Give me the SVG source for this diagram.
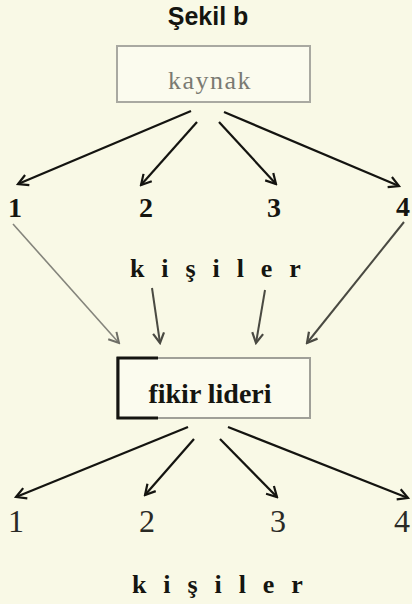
<svg xmlns="http://www.w3.org/2000/svg" width="412" height="604" viewBox="0 0 412 604">
<style>
.serif{font-family:"Liberation Serif","Times New Roman",serif;}
.num-b{font-family:"Liberation Serif",serif;font-weight:bold;font-size:28px;fill:#151510;text-anchor:middle;}
.num-r{font-family:"Liberation Serif",serif;font-size:32px;fill:#2a2a25;text-anchor:middle;}
.kis{font-family:"Liberation Serif",serif;font-weight:bold;font-size:26px;fill:#151510;letter-spacing:5.2px;}
.blk{stroke:#141410;stroke-width:2.2;fill:none;marker-end:url(#ah);}
.dg{stroke:#4a4a42;stroke-width:2;fill:none;marker-end:url(#ahg);}
.lg{stroke:#85857c;stroke-width:1.6;fill:none;marker-end:url(#ahl);}
</style>
<defs>
<marker id="ah" viewBox="0 0 14 14" refX="12" refY="7" markerWidth="14" markerHeight="14" orient="auto" markerUnits="userSpaceOnUse">
<path d="M2,1.5 L12,7 L2,12.5" fill="none" stroke="#141410" stroke-width="2.2"/>
</marker>
<marker id="ahg" viewBox="0 0 14 14" refX="12" refY="7" markerWidth="14" markerHeight="14" orient="auto" markerUnits="userSpaceOnUse">
<path d="M2,1.5 L12,7 L2,12.5" fill="none" stroke="#4a4a42" stroke-width="2.2"/>
</marker>
<marker id="ahl" viewBox="0 0 14 14" refX="12" refY="7" markerWidth="14" markerHeight="14" orient="auto" markerUnits="userSpaceOnUse">
<path d="M2,1.5 L12,7 L2,12.5" fill="none" stroke="#6e6e66" stroke-width="2"/>
</marker>
</defs>
<rect x="0" y="0" width="412" height="604" fill="#f9f9e6"/>

<g id="title">
<text x="208" y="25" text-anchor="middle" font-family="Liberation Sans, Arial, sans-serif" font-weight="bold" font-size="25" fill="#151510">Şekil b</text>
</g>

<g id="kaynak">
<rect x="117" y="46" width="193" height="56" fill="#fbfbee" stroke="#a9a9a1" stroke-width="2"/>
<text x="210" y="89" text-anchor="middle" class="serif" font-size="26" letter-spacing="1.5" fill="#7a7a72">kaynak</text>
</g>

<g id="top-1"><text x="15" y="217" class="num-b">1</text></g>
<g id="top-2"><text x="146" y="217" class="num-b">2</text></g>
<g id="top-3"><text x="274" y="217" class="num-b">3</text></g>
<g id="top-4"><text x="403" y="216" class="num-b">4</text></g>

<g id="kisiler-top">
<text x="130" y="277" class="kis">k i ş i l e r</text>
</g>

<g id="fikir-lideri">
<rect x="117" y="358" width="193" height="60" fill="#fbfbee" stroke="#a0a098" stroke-width="2"/>
<path d="M158,358 L118,358 L118,418 L158,418" fill="none" stroke="#141410" stroke-width="3"/>
<text x="210" y="403" text-anchor="middle" class="serif" font-weight="bold" font-size="28" fill="#151510">fikir lideri</text>
</g>

<g id="bottom-1"><text x="16" y="532" class="num-r">1</text></g>
<g id="bottom-2"><text x="147" y="532" class="num-r">2</text></g>
<g id="bottom-3"><text x="278" y="532" class="num-r">3</text></g>
<g id="bottom-4"><text x="402" y="532" class="num-r">4</text></g>

<g id="kisiler-bottom">
<text x="132" y="593" class="kis">k i ş i l e r</text>
</g>

<g id="connectors">
<line x1="191" y1="111" x2="18" y2="184" class="blk"/>
<line x1="197" y1="122" x2="141" y2="185" class="blk"/>
<line x1="219" y1="122" x2="276" y2="184" class="blk"/>
<line x1="224" y1="112" x2="399" y2="186" class="blk"/>

<line x1="13" y1="224" x2="119" y2="343" class="lg"/>
<line x1="152" y1="288" x2="160" y2="343" class="dg"/>
<line x1="265" y1="290" x2="256" y2="343" class="dg"/>
<line x1="404" y1="222" x2="307" y2="343" class="dg"/>

<line x1="188" y1="427" x2="16" y2="497" class="blk"/>
<line x1="194" y1="439" x2="145" y2="495" class="blk"/>
<line x1="220" y1="439" x2="277" y2="497" class="blk"/>
<line x1="228" y1="427" x2="408" y2="498" class="blk"/>
</g>
</svg>
